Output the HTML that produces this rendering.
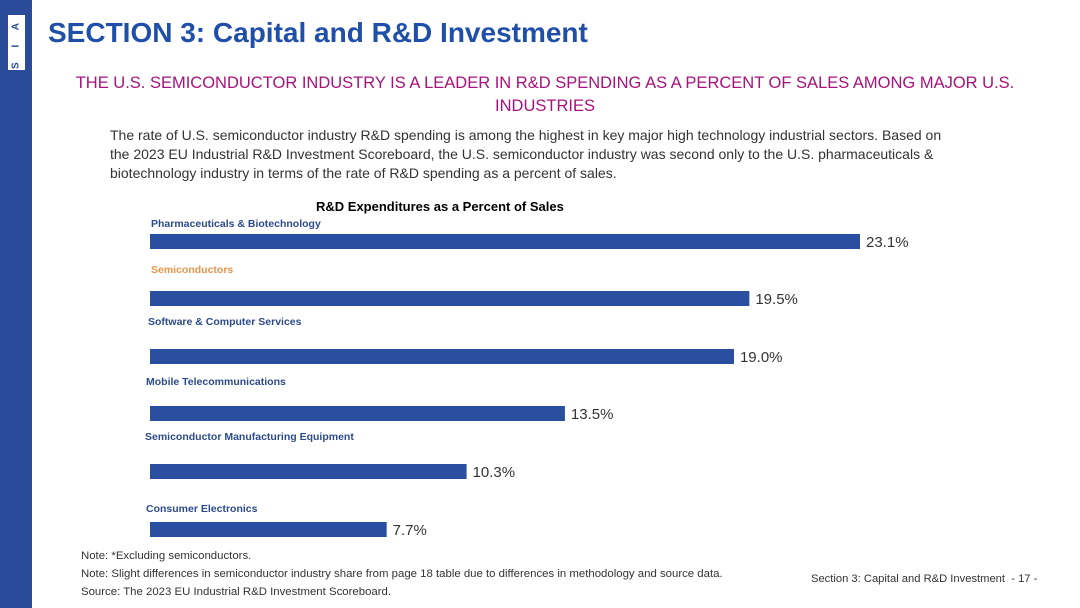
<!DOCTYPE html>
<html><head><meta charset="utf-8">
<style>
body{margin:0;width:1080px;height:608px;overflow:hidden;background:#fff;font-family:"Liberation Sans",sans-serif;position:relative}
.abs{position:absolute;white-space:nowrap}
</style></head><body>
<div class="abs" style="left:0;top:0;width:32px;height:608px;background:#2a4a9a"></div>
<div class="abs" style="left:8px;top:15px;width:17px;height:55px;background:#fff;color:#2a4a9a;font-size:10px;font-weight:bold;text-align:center;line-height:18px">
<div style="transform:rotate(-90deg);position:absolute;left:-19px;top:19px;width:55px;letter-spacing:6px">S I A</div></div>
<div class="abs" style="left:48px;top:17px;font-size:28px;font-weight:bold;color:#1f4fa8">SECTION 3: Capital and R&amp;D Investment</div>
<div class="abs" style="left:60px;top:72px;width:970px;text-align:center;white-space:normal;font-size:16.5px;line-height:23px;color:#a8127c">THE U.S. SEMICONDUCTOR INDUSTRY IS A LEADER IN R&amp;D SPENDING AS A PERCENT OF SALES AMONG MAJOR U.S. INDUSTRIES</div>
<div class="abs" style="left:110px;top:126px;width:835px;white-space:normal;font-size:14px;line-height:19px;color:#333">The rate of U.S. semiconductor industry R&amp;D spending is among the highest in key major high technology industrial sectors. Based on the 2023 EU Industrial R&amp;D Investment Scoreboard, the U.S. semiconductor industry was second only to the U.S. pharmaceuticals &amp; biotechnology industry in terms of the rate of R&amp;D spending as a percent of sales.</div>
<div class="abs" style="left:316px;top:199px;font-size:13px;font-weight:bold;color:#000">R&amp;D Expenditures as a Percent of Sales</div>
<svg class="abs" id="chart" style="left:0;top:0" width="1080" height="608"></svg>
<div class="abs" style="left:81px;top:550px;font-size:11.4px;color:#333">Note: *Excluding semiconductors.</div>
<div class="abs" style="left:81px;top:568px;font-size:11.4px;color:#333">Note: Slight differences in semiconductor industry share from page 18 table due to differences in methodology and source data.</div>
<div class="abs" style="left:81px;top:586px;font-size:11.4px;color:#333">Source: The 2023 EU Industrial R&amp;D Investment Scoreboard.</div>
<div class="abs" style="left:811px;top:573px;font-size:11.2px;color:#333">Section 3: Capital and R&amp;D Investment&nbsp; - 17 -</div>
<script>
const categories=["Pharmaceuticals & Biotechnology","Semiconductors","Software & Computer Services","Mobile Telecommunications","Semiconductor Manufacturing Equipment","Consumer Electronics"];
const values=[23.1,19.5,19.0,13.5,10.3,7.7];
const valueLabels=["23.1%","19.5%","19.0%","13.5%","10.3%","7.7%"];
const svg=document.getElementById('chart');
const NS='http://www.w3.org/2000/svg';
const x0=150, pxPer=710/23.1;
const barTops=[234,291,349,406,464,522];
const labelYs=[227,273,325,385,440,512];
const labelXs=[151,151,148,146,145,146];
function x(v){return x0+v*pxPer;}
values.forEach((v,i)=>{
  const r=document.createElementNS(NS,'rect');
  
  
  r.setAttribute('x',x0);r.setAttribute('y',barTops[i]);
  r.setAttribute('width',x(v)-x0);r.setAttribute('height',15);
  r.setAttribute('fill','#2a4ea0');svg.appendChild(r);
  const t=document.createElementNS(NS,'text');
  
  
  t.setAttribute('x',x(v)+6);t.setAttribute('y',barTops[i]+13);
  t.setAttribute('font-size','15');t.setAttribute('fill','#333');
  t.setAttribute('font-family','Liberation Sans, sans-serif');
  t.textContent=valueLabels[i];svg.appendChild(t);
  const c=document.createElementNS(NS,'text');
  
  
  c.setAttribute('x',labelXs[i]);c.setAttribute('y',labelYs[i]);
  c.setAttribute('font-size','10.5');c.setAttribute('font-weight','bold');
  c.setAttribute('fill',i===1?'#e8954a':'#2c4a8c');
  c.setAttribute('font-family','Liberation Sans, sans-serif');
  c.textContent=categories[i];svg.appendChild(c);
});
</script>
</body></html>
